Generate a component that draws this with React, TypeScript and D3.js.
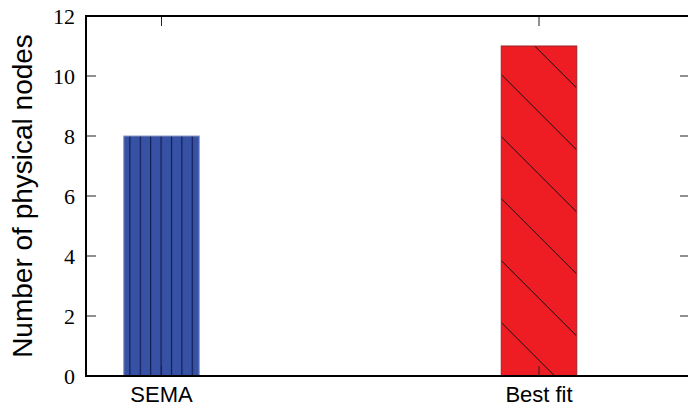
import React from 'react';
import * as d3 from 'd3';

const categories = ['SEMA', 'Best fit'];
const values = [8, 11];
const yTicks = [0, 2, 4, 6, 8, 10, 12];

const width = 688;
const height = 407;
const margin = { top: 16, left: 86, bottom: 31 };
const plotRight = 690;

export default function App() {
  const x = d3.scaleLinear().domain([-0.2, 1.4]).range([margin.left, plotRight]);
  const y = d3.scaleLinear().domain([0, 12]).range([height - margin.bottom, margin.top]);
  const barW = x(0.1) - x(-0.1);
  const y0 = y(0);

  return (
    <svg width={width} height={height} style={{ position: 'absolute', left: 0, top: 0 }}>
      <defs>
        <pattern id="vhatch" patternUnits="userSpaceOnUse" x={4.5} y={0} width={10.4} height={20}>
          <line x1={0.5} y1={0} x2={0.5} y2={20} stroke="#101a50" strokeWidth={1.3} />
        </pattern>
        <pattern id="dhatch" patternUnits="userSpaceOnUse" x={0} y={7.3} width={62} height={62}>
          <line x1={0} y1={0} x2={62} y2={62} stroke="#111" strokeWidth={1} />
        </pattern>
      </defs>

      {/* bars */}
      {values.map((v, i) => {
        const bx = x(i) - barW / 2;
        const fill = i === 0 ? '#3752a4' : '#ee1d24';
        const edge = i === 0 ? '#8a96c4' : '#9c2226';
        return (
          <g key={categories[i]}>
            <rect x={bx} y={y(v)} width={barW} height={y0 - y(v)} fill={fill} />
            <rect x={bx} y={y(v)} width={barW} height={y0 - y(v)} fill={i === 0 ? 'url(#vhatch)' : 'url(#dhatch)'} />
            <rect x={bx} y={y(v)} width={barW} height={y0 - y(v)} fill="none" stroke={edge} strokeWidth={1} />
          </g>
        );
      })}

      {/* y ticks, both sides, inward */}
      {yTicks.map(t => (
        <g key={t}>
          {t > 0 && t < 12 && (
            <>
              <line x1={margin.left} x2={margin.left + 10} y1={y(t)} y2={y(t)} stroke="#222" strokeWidth={1} />
              <line x1={plotRight - 10} x2={plotRight} y1={y(t)} y2={y(t)} stroke="#222" strokeWidth={1} />
            </>
          )}
          <text x={75} y={y(t)} dy="0.35em" textAnchor="end" fontFamily="'Liberation Serif', serif" fontSize={22}>
            {t}
          </text>
        </g>
      ))}

      {/* x ticks top and bottom */}
      {categories.map((c, i) => (
        <g key={c}>
          <line x1={x(i)} x2={x(i)} y1={y0} y2={y0 - 10} stroke="#222" strokeWidth={1} />
          <line x1={x(i)} x2={x(i)} y1={margin.top} y2={margin.top + 10} stroke="#222" strokeWidth={1} />
          <text x={x(i)} y={402} textAnchor="middle" fontFamily="'Liberation Sans', Arial, sans-serif" fontSize={22}>
            {c}
          </text>
        </g>
      ))}

      {/* frame */}
      <rect x={margin.left} y={margin.top} width={plotRight - margin.left} height={y0 - margin.top} fill="none" stroke="#000" strokeWidth={2} />

      <text
        transform={`translate(32,${(margin.top + y0) / 2}) rotate(-90)`}
        textAnchor="middle"
        fontFamily="'Liberation Sans', Arial, sans-serif"
        fontSize={28}
      >
        Number of physical nodes
      </text>
    </svg>
  );
}
